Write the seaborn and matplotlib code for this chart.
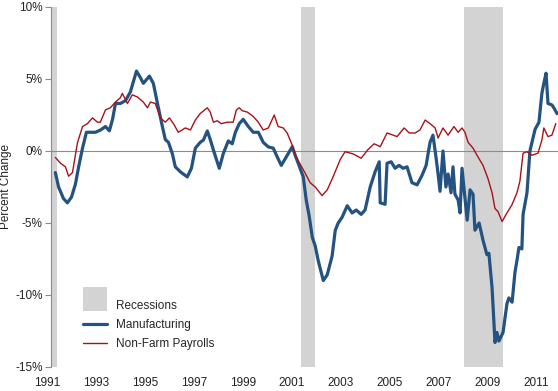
import numpy as np
import pandas as pd
import matplotlib
matplotlib.use("Agg")
import matplotlib.pyplot as plt
import seaborn as sns
from matplotlib.patches import Patch, Rectangle
from matplotlib.lines import Line2D
from matplotlib.legend_handler import HandlerPatch
from matplotlib.transforms import ScaledTranslation

sns.set_style("white")
plt.rcParams["font.family"] = ["Liberation Sans", "DejaVu Sans"]

# year-over-year % change (decimal years)
mfg_year = [
    1991.18, 1991.31, 1991.51, 1991.67, 1991.84, 1992.00, 1992.12, 1992.29, 1992.45, 1992.62,
    1992.82, 1993.02, 1993.23, 1993.39, 1993.52, 1993.64, 1993.84, 1994.05, 1994.25, 1994.50,
    1994.66, 1994.78, 1995.03, 1995.19, 1995.36, 1995.56, 1995.68, 1995.81, 1995.97, 1996.09,
    1996.30, 1996.58, 1996.75, 1996.91, 1997.11, 1997.24, 1997.40, 1997.52, 1997.65, 1997.89,
    1998.06, 1998.26, 1998.42, 1998.55, 1998.71, 1998.87, 1999.08, 1999.28, 1999.49, 1999.69,
    1999.90, 2000.10, 2000.26, 2000.43, 2000.67, 2000.88, 2001.00, 2001.20, 2001.33, 2001.45,
    2001.57, 2001.70, 2001.82, 2001.94, 2002.15, 2002.31, 2002.51, 2002.64, 2002.76, 2002.92,
    2003.13, 2003.33, 2003.50, 2003.70, 2003.86, 2004.07, 2004.27, 2004.44, 2004.48, 2004.68,
    2004.76, 2004.93, 2005.09, 2005.25, 2005.42, 2005.58, 2005.78, 2005.99, 2006.19, 2006.36,
    2006.52, 2006.64, 2006.77, 2006.85, 2006.93, 2007.05, 2007.17, 2007.26, 2007.38, 2007.46,
    2007.54, 2007.67, 2007.75, 2007.83, 2007.91, 2008.04, 2008.16, 2008.28, 2008.36, 2008.53,
    2008.69, 2008.85, 2008.93, 2009.06, 2009.18, 2009.26, 2009.34, 2009.51, 2009.67, 2009.75,
    2009.88, 2010.00, 2010.08, 2010.16, 2010.28, 2010.33, 2010.49, 2010.61, 2010.82, 2010.98,
    2011.10, 2011.18, 2011.27, 2011.35, 2011.51, 2011.59, 2011.72,
]
mfg_pct = [
    -1.5, -2.5, -3.3, -3.6, -3.2, -2.3, -1.2, 0.2, 1.3, 1.3,
    1.3, 1.45, 1.7, 1.4, 2.2, 3.3, 3.3, 3.5, 4.1, 5.55,
    5.1, 4.7, 5.2, 4.7, 3.3, 1.7, 0.8, 0.6, -0.2, -1.1,
    -1.45, -1.8, -1.2, 0.2, 0.6, 0.76, 1.39, 0.8, 0.07, -1.2,
    -0.15, 0.7, 0.5, 1.3, 1.9, 2.2, 1.7, 1.3, 1.3, 0.6,
    0.28, 0.2, -0.4, -1.0, -0.3, 0.3, -0.3, -1.2, -1.8, -3.4,
    -4.5, -6.0, -6.6, -7.6, -9.0, -8.6, -7.3, -5.5, -5.0, -4.6,
    -3.8, -4.3, -4.1, -4.4, -4.1, -2.5, -1.45, -0.75, -3.6, -3.7,
    -0.85, -0.75, -1.2, -1.0, -1.2, -1.1, -2.2, -2.35, -1.7, -1.0,
    0.6, 1.1, -0.5, -1.6, -2.8, 0.0, -2.5, -1.6, -2.9, -1.1,
    -3.0, -3.4, -4.3, -1.2, -2.6, -4.8, -2.7, -3.0, -5.5, -5.0,
    -6.2, -7.2, -7.1, -9.5, -13.3, -12.6, -13.2, -12.6, -10.6, -10.2,
    -10.5, -8.4, -7.6, -6.7, -6.8, -4.4, -2.9, 0.0, 1.5, 2.0,
    4.0, 4.7, 5.4, 3.3, 3.2, 3.0, 2.6,
]

nfp_year = [
    1991.18, 1991.39, 1991.59, 1991.72, 1991.88, 1992.08, 1992.29, 1992.49, 1992.70, 1992.90,
    1993.02, 1993.23, 1993.43, 1993.64, 1993.84, 1993.92, 1994.13, 1994.33, 1994.54, 1994.78,
    1994.95, 1995.07, 1995.27, 1995.48, 1995.68, 1995.85, 1996.05, 1996.21, 1996.50, 1996.71,
    1996.91, 1997.11, 1997.40, 1997.52, 1997.65, 1997.81, 1997.97, 1998.22, 1998.46, 1998.59,
    1998.71, 1998.83, 1999.04, 1999.28, 1999.49, 1999.69, 1999.90, 2000.14, 2000.30, 2000.51,
    2000.67, 2000.88, 2001.00, 2001.20, 2001.41, 2001.61, 2001.82, 2002.10, 2002.31, 2002.55,
    2002.84, 2003.04, 2003.37, 2003.70, 2003.98, 2004.23, 2004.48, 2004.76, 2005.01, 2005.17,
    2005.46, 2005.67, 2005.91, 2006.11, 2006.32, 2006.52, 2006.73, 2006.85, 2007.05, 2007.26,
    2007.50, 2007.67, 2007.83, 2007.95, 2008.08, 2008.28, 2008.48, 2008.69, 2008.89, 2009.06,
    2009.18, 2009.30, 2009.47, 2009.67, 2009.87, 2010.08, 2010.20, 2010.33, 2010.49, 2010.69,
    2010.94, 2011.10, 2011.18, 2011.35, 2011.51, 2011.67,
]
nfp_pct = [
    -0.45, -0.85, -1.1, -1.75, -1.5, 0.55, 1.7, 1.9, 2.3, 2.0,
    2.0, 2.85, 3.0, 3.4, 3.7, 4.0, 3.3, 3.9, 3.75, 3.4,
    3.0, 3.4, 3.3, 2.3, 2.0, 2.3, 1.8, 1.3, 1.6, 1.46,
    2.15, 2.6, 3.0, 2.7, 2.0, 2.1, 1.9, 2.0, 2.0, 2.85,
    3.0, 2.8, 2.7, 2.4, 2.0, 1.46, 1.6, 2.5, 1.7, 1.6,
    1.25, 0.4, -0.3, -0.9, -1.55, -2.2, -2.5, -3.1, -2.7, -1.8,
    -0.6, -0.05, -0.2, -0.5, 0.1, 0.5, 0.3, 1.25, 1.1, 1.0,
    1.6, 1.25, 1.25, 1.46, 2.15, 1.9, 1.6, 0.9, 1.6, 1.1,
    1.7, 1.3, 1.6, 1.3, 0.6, 0.2, -0.4, -1.0, -1.9, -2.9,
    -4.0, -4.2, -4.9, -4.3, -3.75, -2.9, -2.1, -0.15, -0.05, -0.3,
    -0.15, 0.76, 1.6, 1.0, 1.1, 1.9,
]

recession_start = [1990.50, 2001.25, 2007.92]
recession_end = [1991.25, 2001.83, 2009.50]

year_ticks = list(range(1991, 2012))
label_years = list(range(1991, 2012, 2))
year_labels = [str(y) for y in label_years]
pct_ticks = [10, 5, 0, -5, -10, -15]

BLUE = "#245281"
RED = "#a8121a"
GRAY = "#d3d3d3"
AXIS = "#8c8c8c"

mfg = pd.DataFrame({"year": mfg_year, "pct": mfg_pct})
nfp = pd.DataFrame({"year": nfp_year, "pct": nfp_pct})

fig = plt.figure(figsize=(5.58, 3.91), dpi=100)
ax = fig.add_axes([0.0914, 0.0614, 0.9086, 0.9207])

for s, e in zip(recession_start, recession_end):
    ax.axvspan(s, e, color=GRAY, lw=0, zorder=0)

sns.lineplot(data=nfp, x="year", y="pct", color=RED, lw=1.0, ax=ax, zorder=3)
sns.lineplot(data=mfg, x="year", y="pct", color=BLUE, lw=2.3, ax=ax, zorder=2)

ax.set_xlim(1991.0, 2011.76)
ax.set_ylim(-15, 10)

# zero line carries the yearly tick marks
ax.spines["bottom"].set_position(("data", 0))
ax.spines["bottom"].set_color(AXIS)
ax.spines["bottom"].set_zorder(1)
ax.spines["left"].set_color(AXIS)
ax.spines["top"].set_visible(False)
ax.spines["right"].set_visible(False)
ax.set_xticks(year_ticks)
ax.set_xticklabels([])
ax.tick_params(axis="x", length=4, width=0.8, color=AXIS, direction="out")

# year labels sit under the plot, a touch left of the tick
sec = ax.secondary_xaxis("bottom")
sec.spines["bottom"].set_visible(False)
sec.set_xticks(label_years)
sec.set_xticklabels(year_labels, fontsize=8.5, color="#222222")
sec.tick_params(length=0, pad=7.5)
nudge = ScaledTranslation(-2.5 / 72, 0, fig.dpi_scale_trans)
for lab in sec.get_xticklabels():
    lab.set_transform(lab.get_transform() + nudge)

ax.set_yticks(pct_ticks)
ax.set_yticklabels([f"{v}%" for v in pct_ticks], fontsize=8.5, color="#222222")
ax.tick_params(axis="y", left=True, length=4, width=0.8, color=AXIS, pad=2)
ax.set_xlabel("")
ax.set_ylabel("Percent Change", fontsize=8.5, color="#222222", labelpad=2)


def tall_patch(legend, orig_handle, xdescent, ydescent, width, height, fontsize):
    return Rectangle((-xdescent, -ydescent - 0.3 * height), width, 2.9 * height)


handles = [
    Patch(facecolor=GRAY, edgecolor="none"),
    Line2D([], [], color=BLUE, lw=2.3),
    Line2D([], [], color=RED, lw=1.0),
]
ax.legend(
    handles, ["Recessions", "Manufacturing", "Non-Farm Payrolls"],
    handler_map={Patch: HandlerPatch(patch_func=tall_patch)},
    loc="lower left", bbox_to_anchor=(0.042, 0.018), frameon=False,
    fontsize=8.5, handlelength=2.0, handletextpad=0.8, labelspacing=0.6,
)

fig.savefig("out.png", dpi=100)
